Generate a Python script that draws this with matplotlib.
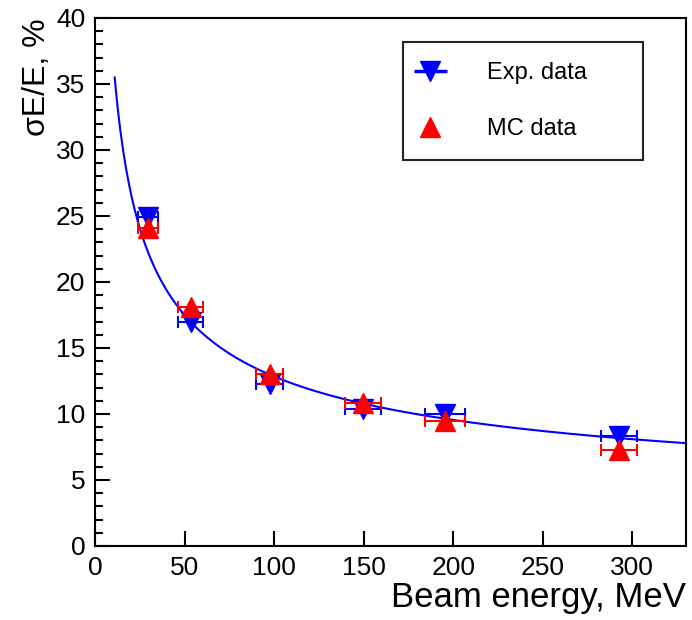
import numpy as np
import matplotlib.pyplot as plt
from matplotlib.lines import Line2D
from matplotlib.ticker import MultipleLocator
from matplotlib.legend_handler import HandlerErrorbar
from matplotlib.container import ErrorbarContainer

plt.rcParams['font.family'] = ['Liberation Sans', 'DejaVu Sans']

# beam energies (MeV) and horizontal errors
energy = [29.5, 53.5, 97.5, 149.5, 195.5, 292.5]
energy_err = [5.5, 7.0, 7.5, 10.0, 11.0, 10.0]

# energy resolution, %
exp_res = [24.9, 17.0, 12.3, 10.4, 10.0, 8.3]
mc_res = [24.1, 18.1, 13.0, 10.8, 9.5, 7.3]

# fit sigma/E = a/sqrt(E) + b
fit_a = 112.4
fit_b = 1.6
fit_range = (11, 330)

fig = plt.figure(figsize=(6.92, 6.2), dpi=100)
ax = fig.add_axes([0.1373, 0.1194, 0.854, 0.8516])

e = np.linspace(fit_range[0], fit_range[1], 400)
ax.plot(e, fit_a / np.sqrt(e) + fit_b, color='#0000ff', lw=1.5, zorder=2)

ax.errorbar(energy, exp_res, xerr=energy_err, fmt='v', color='#0000ff',
            ms=15, elinewidth=1.5, capsize=4, capthick=1.5, zorder=3)
ax.errorbar(energy, mc_res, xerr=energy_err, fmt='^', color='#ff0000',
            ms=15, elinewidth=1.5, capsize=4, capthick=1.5, zorder=4)

ax.set_xlim(0, 330)
ax.set_ylim(0, 40)
ax.xaxis.set_major_locator(MultipleLocator(50))
ax.yaxis.set_major_locator(MultipleLocator(5))
ax.yaxis.set_minor_locator(MultipleLocator(1))
ax.tick_params(axis='both', which='major', direction='in', length=11, width=1.5,
               labelsize=19, top=False, right=False)
ax.tick_params(axis='x', pad=7)
ax.tick_params(axis='y', pad=7)
ax.tick_params(axis='y', which='minor', direction='in', length=6, width=1.5)
for s in ax.spines.values():
    s.set_linewidth(1.5)

ax.set_xlabel('Beam energy, MeV', fontsize=25, loc='right', labelpad=1)
ax.set_ylabel('σE/E, %', fontsize=23, loc='top', labelpad=3)

# legend
h_exp = ax.errorbar([], [], xerr=[], fmt='v', color='#0000ff', ms=14,
                    elinewidth=2.5, capsize=4, capthick=1.5)
h_mc = Line2D([], [], ls='none', marker='^', color='#ff0000', ms=14)
leg = ax.legend([h_exp, h_mc], ['Exp. data', 'MC data'],
                handler_map={ErrorbarContainer: HandlerErrorbar(xerr_size=0.7)},
                loc='upper left', bbox_to_anchor=(0.521, 0.9545, 0.406, 0.0),
                mode='expand', borderaxespad=0, fontsize=17, fancybox=False,
                edgecolor='#222222', framealpha=1, labelspacing=1.45,
                borderpad=0.85, handlelength=0.6, handletextpad=2.1)
leg.get_frame().set_linewidth(1.5)

fig.savefig('out.png', dpi=100)
